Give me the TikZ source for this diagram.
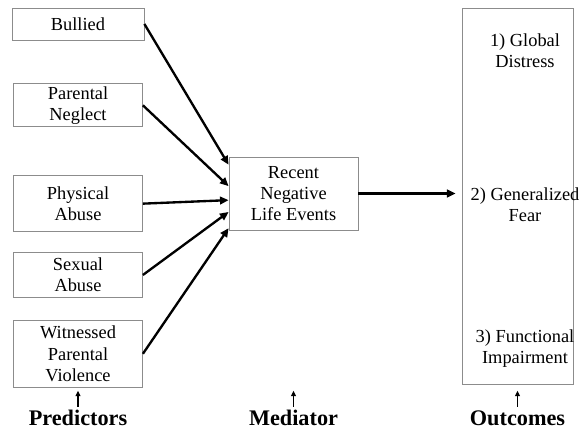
\documentclass[tikz,border=0pt]{standalone}
\usepackage{fontspec}
\setmainfont{Liberation Serif}
\usetikzlibrary{positioning,arrows.meta,calc}

\begin{document}
\begin{tikzpicture}[
  node distance=0.6cm,
  box/.style={draw=black!45, line width=0.7pt, align=center, font=\fontsize{15.7}{18.2}\selectfont, minimum width=3.87cm, inner sep=2pt},
  outtxt/.style={align=center, font=\fontsize{15.7}{18.2}\selectfont, inner sep=0pt},
  lbl/.style={font=\fontsize{19}{22}\selectfont\bfseries, inner sep=0pt, text height=0.45cm, text depth=0.05cm},
  arr/.style={-{Triangle[length=2.6mm, width=2.3mm]}, line width=2pt},
  tick/.style={-{Triangle[length=1.6mm, width=1.4mm]}, line width=1pt}]
  \useasboundingbox (0,0) rectangle (17.37,-12.9);

  % predictors
  \node[box, minimum width=3.96cm, minimum height=0.96cm] (bul) at (2.34,-0.72) {Bullied};
  \node[box, minimum height=1.29cm, below=1.29cm of bul] (neg) {Parental\\Neglect};
  \node[box, minimum height=1.68cm, below=1.44cm of neg] (phy) {Physical\\Abuse};
  \node[box, minimum height=1.35cm, below=0.6cm of phy] (sex) {Sexual\\Abuse};
  \node[box, minimum height=2.01cm, below=0.66cm of sex] (wit) {Witnessed\\Parental\\Violence};

  % mediator and outcomes
  \node[box, minimum height=2.19cm] (med) at (8.805,-5.805) {Recent\\Negative\\Life Events};
  \node[box, minimum width=3.33cm, minimum height=11.28cm] (out) at (15.525,-5.88) {};
  \node[outtxt] (o1) at (15.75,-1.53) {1) Global\\Distress};
  \node[outtxt] (o2) at (15.75,-6.14) {2) Generalized\\Fear};
  \node[outtxt] (o3) at (15.75,-10.45) {3) Functional\\Impairment};

  \foreach \n/\f in {bul/0.11,neg/0.40,phy/0.59,sex/0.75,wit/0.97}
    \draw[arr] (\n.east) -- ($(med.north west)!\f!(med.south west)$);
  \draw[arr, shorten >=0.18cm] (med.east) -- (med.east -| out.west);

  % column labels
  \node[lbl, below=0.67cm of wit] (lp) {Predictors};
  \node[lbl] (lm) at (lp -| med) {Mediator};
  \node[lbl] (lo) at (lp -| out) {Outcomes};
  \foreach \n in {lp,lm,lo} \draw[tick] ([yshift=0.1cm]\n.north) -- ([yshift=0.58cm]\n.north);
\end{tikzpicture}
\end{document}
